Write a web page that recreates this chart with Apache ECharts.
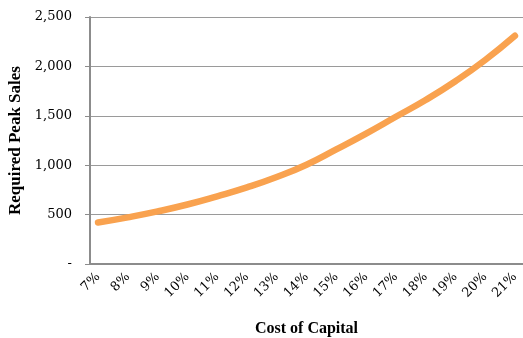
<!DOCTYPE html>
<html>
<head>
<meta charset="utf-8">
<script src="https://cdn.jsdelivr.net/npm/echarts@6/dist/echarts.min.js"></script>
<style>
html,body{margin:0;padding:0;background:#fff;}
#chart{width:523px;height:338px;}
</style>
</head>
<body>
<div id="chart"></div>
<script>
const costOfCapital = [7, 8, 9, 10, 11, 12, 13, 14, 15, 16, 17, 18, 19, 20, 21];
const xTickLabels = ['7%', '8%', '9%', '10%', '11%', '12%', '13%', '14%', '15%', '16%', '17%', '18%', '19%', '20%', '21%'];
const requiredPeakSales = [420, 472, 532, 602, 685, 775, 880, 1005, 1160, 1320, 1490, 1660, 1850, 2065, 2310];
const yTicks = [0, 500, 1000, 1500, 2000, 2500];

const chart = echarts.init(document.getElementById('chart'));
const serif = 'DejaVu Serif';
chart.setOption({
  animation: false,
  backgroundColor: '#fff',
  grid: { left: 90, right: 0, top: 17, bottom: 74, containLabel: false, outerBoundsMode: 'none' },
  xAxis: {
    type: 'value',
    min: 6.73,
    max: 21.27,
    name: 'Cost of Capital',
    nameLocation: 'middle',
    nameGap: 57,
    nameTextStyle: { fontFamily: 'Liberation Serif', fontWeight: 'bold', fontSize: 16, color: '#000' },
    axisLine: { show: true, lineStyle: { color: '#8c8c8c', width: 2 } },
    axisTick: { show: false },
    splitLine: { show: false },
    axisLabel: {
      customValues: costOfCapital,
      rotate: 45,
      margin: 11,
      fontFamily: serif,
      fontSize: 13,
      color: '#000',
      formatter: function (v) { return xTickLabels[costOfCapital.indexOf(Math.round(v))]; }
    }
  },
  yAxis: {
    type: 'value',
    min: yTicks[0],
    max: yTicks[yTicks.length - 1],
    interval: 500,
    name: 'Required Peak Sales',
    nameLocation: 'middle',
    nameGap: 66,
    nameRotate: 90,
    nameTextStyle: { fontFamily: 'Liberation Serif', fontWeight: 'bold', fontSize: 17, color: '#000' },
    axisLine: { show: true, lineStyle: { color: '#8c8c8c', width: 2 } },
    axisTick: { show: true, length: 5, lineStyle: { color: '#8c8c8c', width: 1 } },
    splitLine: { show: true, lineStyle: { color: '#9a9a9a', width: 1 } },
    axisLabel: {
      margin: 18,
      fontFamily: serif,
      fontSize: 13,
      color: '#000',
      formatter: function (v) { return v === 0 ? '-' : v.toLocaleString('en-US'); }
    }
  },
  series: [{
    type: 'line',
    data: costOfCapital.map((c, i) => [c, requiredPeakSales[i]]),
    smooth: true,
    showSymbol: false,
    lineStyle: { color: '#F9A24F', width: 6.5, cap: 'round' },
    itemStyle: { color: '#F9A24F' }
  }]
});
</script>
</body>
</html>
